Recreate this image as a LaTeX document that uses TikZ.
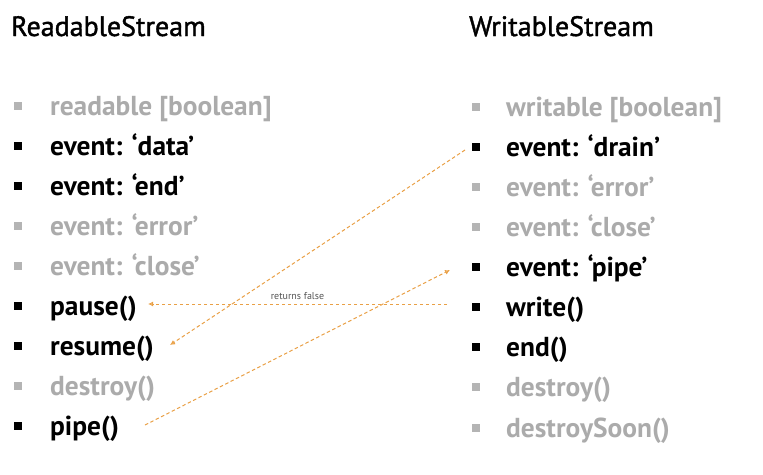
\documentclass[tikz,border=0pt]{standalone}
\usepackage{fontspec}
\setmainfont{PT Sans}
\newfontfamily\titlefont[FakeBold=1.4]{PT Sans}
\usetikzlibrary{arrows.meta,calc}
\definecolor{dim}{HTML}{ABABAB}
\definecolor{dimbul}{HTML}{B4B4B4}
\definecolor{arr}{HTML}{E9A046}
\definecolor{lbl}{HTML}{555555}
\begin{document}
\begin{tikzpicture}[x=1pt,y=-1pt,
  title/.style={anchor=base west,inner sep=0pt,font=\titlefont\fontsize{28}{32}\selectfont},
  item/.style={anchor=base west,inner sep=0pt,font=\fontsize{27.4}{31}\selectfont\bfseries},
  dimitem/.style={item,text=dim},
  bul/.style={fill=black,minimum size=8pt,inner sep=0pt,draw=none},
  dimbul/.style={bul,fill=dimbul},
  flow/.style={draw=arr,dash pattern=on 3.5pt off 2.5pt,line width=1pt,-{Latex[open,length=5pt,width=5pt]}},
]
\useasboundingbox (0,0) rectangle (763,474);
\node[title] (tl) at (11,36) {ReadableStream};
\node[title] (tr) at (469,36) {WritableStream};
% left column
\node[dimbul] (lb1) at (18,106) {};
\node[dimitem] (l1) at (50,115) {readable [boolean]};
\node[bul] (lb2) at (18,146) {};
\node[item] (l2) at (50,155) {event: ‘data’};
\node[bul] (lb3) at (18,186) {};
\node[item] (l3) at (50,195) {event: ‘end’};
\node[dimbul] (lb4) at (18,226) {};
\node[dimitem] (l4) at (50,235) {event: ‘error’};
\node[dimbul] (lb5) at (18,266) {};
\node[dimitem] (l5) at (50,275) {event: ‘close’};
\node[bul] (lb6) at (18,306) {};
\node[item] (l6) at (50,315) {pause()};
\node[bul] (lb7) at (18,346) {};
\node[item] (l7) at (50,355) {resume()};
\node[dimbul] (lb8) at (18,386) {};
\node[dimitem] (l8) at (50,395) {destroy()};
\node[bul] (lb9) at (18,426) {};
\node[item] (l9) at (50,435) {pipe()};
% right column
\node[dimbul] (rb1) at (476,107) {};
\node[dimitem] (r1) at (506,116) {writable [boolean]};
\node[bul] (rb2) at (476,147) {};
\node[item] (r2) at (506,156) {event: ‘drain’};
\node[dimbul] (rb3) at (476,187) {};
\node[dimitem] (r3) at (506,196) {event: ‘error’};
\node[dimbul] (rb4) at (476,227) {};
\node[dimitem] (r4) at (506,236) {event: ‘close’};
\node[bul] (rb5) at (476,267) {};
\node[item] (r5) at (506,276) {event: ‘pipe’};
\node[bul] (rb6) at (476,307) {};
\node[item] (r6) at (506,316) {write()};
\node[bul] (rb7) at (476,347) {};
\node[item] (r7) at (506,356) {end()};
\node[dimbul] (rb8) at (476,387) {};
\node[dimitem] (r8) at (506,396) {destroy()};
\node[dimbul] (rb9) at (476,428) {};
\node[dimitem] (r9) at (506,437) {destroySoon()};
% connectors
\coordinate (wS) at ($(r6.base west)+(-59,-12)$);
\coordinate (pE) at ($(l6.base west)+(98,-11)$);
\draw[flow] (wS) -- node[above,font=\fontsize{10}{11}\selectfont,text=lbl,inner sep=4pt] {returns false} (pE);
\coordinate (dS) at ($(r2.base west)+(-41,-6)$);
\coordinate (rE) at ($(l7.base west)+(120,-10)$);
\draw[flow] (dS) -- (rE);
\coordinate (pS) at ($(l9.base west)+(95,-10)$);
\coordinate (ppE) at ($(r5.base west)+(-56,-6)$);
\draw[flow] (pS) -- (ppE);
\end{tikzpicture}
\end{document}
